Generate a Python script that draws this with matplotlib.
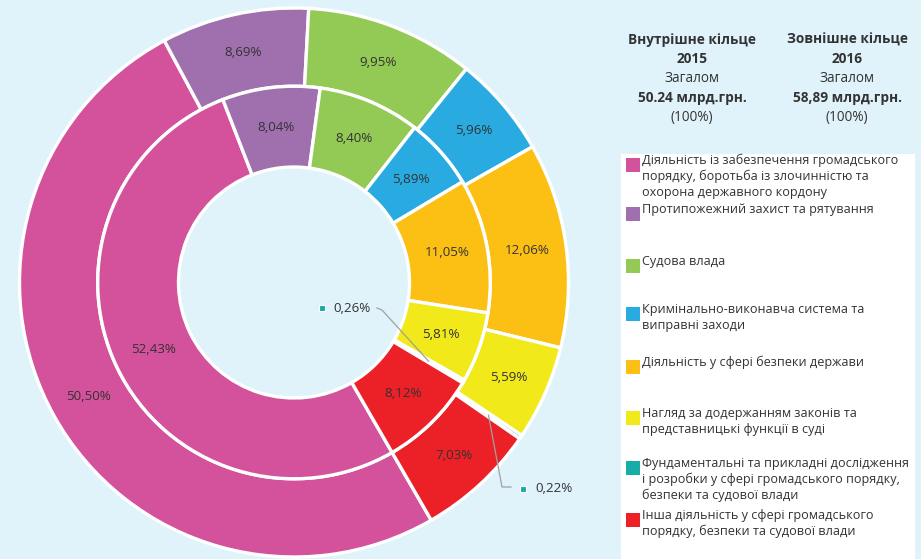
import numpy as np
import matplotlib
matplotlib.use("Agg")
import matplotlib.pyplot as plt

plt.rcParams['font.family'] = ['Open Sans', 'DejaVu Sans']

categories = [
    "Діяльність із забезпечення громадського\nпорядку, боротьба із злочинністю та\nохорона державного кордону",
    "Протипожежний захист та рятування",
    "Судова влада",
    "Кримінально-виконавча система та\nвиправні заходи",
    "Діяльність у сфері безпеки держави",
    "Нагляд за додержанням законів та\nпредставницькі функції в суді",
    "Фундаментальні та прикладні дослідження\nі розробки у сфері громадського порядку,\nбезпеки та судової влади",
    "Інша діяльність у сфері громадського\nпорядку, безпеки та судової влади",
]
share_2015 = [52.43, 8.04, 8.40, 5.89, 11.05, 5.81, 0.26, 8.12]   # inner ring
share_2016 = [50.50, 8.69, 9.95, 5.96, 12.06, 5.59, 0.22, 7.03]   # outer ring
colors = ['#d4519b', '#a070ae', '#93c955', '#29abe2', '#fcc015', '#f2e91b', '#17aca6', '#ec2027']

bg = '#e0f3fb'
txt = '#333333'
W, H = 921, 559

fig = plt.figure(figsize=(W / 100, H / 100), dpi=100, facecolor=bg)

# square axes, pie radius 1 == 274.5 px, centre at (294, 282.5)
R = 274.5
cx, cy = 294, 282.5
ax = fig.add_axes([(cx - R) / W, (H - cy - R) / H, 2 * R / W, 2 * R / H])
ax.set_facecolor(bg)
ax.axis('off')


def px(x, y):
    # pixel position in the picture -> data coords of the pie axes
    return (x - cx) / R, (cy - y) / R


start = -60
outer_w = 0.285
inner_r = 1 - outer_w
inner_w = inner_r - 115.5 / R

wedge_kw = dict(edgecolor='white', linewidth=2.4)
ax.pie(share_2016, radius=1, colors=colors, startangle=start, counterclock=False,
       wedgeprops=dict(width=outer_w, **wedge_kw))
ax.pie(share_2015, radius=inner_r, colors=colors, startangle=start, counterclock=False,
       wedgeprops=dict(width=inner_w, **wedge_kw))
ax.set_xlim(-1, 1)
ax.set_ylim(-1, 1)


def mid_angles(vals):
    cum = np.cumsum([0] + list(vals))
    return [np.deg2rad(start - 3.6 * (cum[i] + cum[i + 1]) / 2) for i in range(len(vals))]


def fmt(v):
    return f"{v:.2f}%".replace('.', ',')


r_out = 1 - outer_w / 2
r_in = inner_r - inner_w / 2
for vals, r in ((share_2016, r_out), (share_2015, r_in)):
    angs = mid_angles(vals)
    for i, (v, a) in enumerate(zip(vals, angs)):
        if i == 6:
            continue
        ax.text(r * np.cos(a), r * np.sin(a), fmt(v), ha='center', va='center',
                fontsize=9.6, color=txt)

# small teal slices: label, marker and leader line
a_in = mid_angles(share_2015)[6]
a_out = mid_angles(share_2016)[6]
small = [
    (share_2015[6], r_in, a_in, px(333, 308), px(322, 308), [px(377, 308), px(382, 310)]),
    (share_2016[6], r_out, a_out, px(535, 489), px(523, 489), [px(511, 487), px(502, 487)]),
]
for v, r, a, tpos, mpos, elbow in small:
    ax.text(*tpos, fmt(v), ha='left', va='center', fontsize=9.6, color=txt)
    ax.scatter(*mpos, marker='s', s=24, color=colors[6], edgecolor='white',
               linewidth=0.8, zorder=5, clip_on=False)
    xs = [p[0] for p in elbow] + [r * np.cos(a)]
    ys = [p[1] for p in elbow] + [r * np.sin(a)]
    ax.plot(xs, ys, color='#a0a0a0', lw=0.9, zorder=4, clip_on=False)

# header texts
head = [
    (692, ["Внутрішне кільце", "2015"], "Загалом", "50.24 млрд.грн."),
    (847, ["Зовнішне кільце", "2016"], "Загалом", "58,89 млрд.грн."),
]
for x, (t1, t2), t3, t4 in head:
    fx = x / W
    fig.text(fx, 1 - 40 / H, t1, ha='center', va='center', fontsize=9.8, fontweight='bold', color=txt)
    fig.text(fx, 1 - 59 / H, t2, ha='center', va='center', fontsize=9.8, fontweight='bold', color=txt)
    fig.text(fx, 1 - 79 / H, t3, ha='center', va='center', fontsize=9.8, color=txt)
    fig.text(fx, 1 - 98 / H, t4, ha='center', va='center', fontsize=9.8, fontweight='bold', color=txt)
    fig.text(fx, 1 - 117 / H, "(100%)", ha='center', va='center', fontsize=9.8, color=txt)

# legend panel
panel = fig.add_axes([621 / W, 0, (915 - 621) / W, (H - 154) / H])
panel.set_xlim(621, 915)
panel.set_ylim(H, 154)
panel.set_facecolor('white')
for s in panel.spines.values():
    s.set_visible(False)
panel.set_xticks([])
panel.set_yticks([])

legend_top = [158, 207, 259, 307, 360, 411, 461, 513]
for lab, col, y in zip(categories, colors, legend_top):
    panel.add_patch(plt.Rectangle((626, y), 14, 14, color=col, lw=0))
    panel.text(642, y - 4, lab, ha='left', va='top', fontsize=9.1, color=txt,
               linespacing=1.25)

fig.savefig("out.png", dpi=100, facecolor=bg)
